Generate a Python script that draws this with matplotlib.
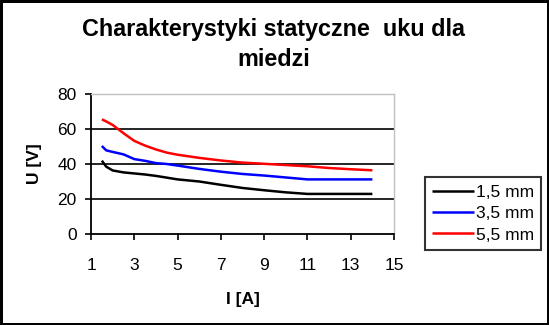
"""Charakterystyki statyczne luku dla miedzi - line chart."""

import matplotlib
matplotlib.use("Agg")
import matplotlib.pyplot as plt
from matplotlib.patches import Rectangle

plt.rcParams['font.family'] = ['Liberation Sans', 'DejaVu Sans']

# current I [A]
current = [1.5, 1.7, 2, 2.5, 3, 3.5, 4, 4.5, 5, 6, 7, 8, 9, 10, 11, 12, 13, 14]
# arc voltage U [V] for each electrode diameter
u_15 = [41.9, 38.5, 36.3, 35.2, 34.6, 34.0, 33.2, 32.2, 31.2, 30.0, 28.1, 26.3,
        25.0, 23.8, 22.9, 22.9, 22.9, 22.9]
u_35 = [50.3, 47.8, 46.9, 45.5, 42.8, 41.8, 40.5, 40.0, 39.1, 37.2, 35.6, 34.3,
        33.4, 32.3, 31.2, 31.2, 31.2, 31.2]
u_55 = [65.5, 64.3, 62.3, 57.6, 53.2, 50.5, 48.3, 46.5, 45.3, 43.5, 42.0, 40.8,
        40.1, 39.4, 38.7, 37.7, 37.0, 36.4]
series_labels = ["1,5 mm", "3,5 mm", "5,5 mm"]
series_colors = ["black", "#0000ff", "#ff0000"]

x_ticks = [1, 3, 5, 7, 9, 11, 13, 15]
y_ticks = [0, 20, 40, 60, 80]

fig = plt.figure(figsize=(5.49, 3.25), dpi=100)
ax = fig.add_axes([0.1658, 0.28, 0.5519, 0.4308])

for vals, lab, col in zip([u_15, u_35, u_55], series_labels, series_colors):
    ax.plot(current, vals, color=col, lw=1.8, label=lab, solid_capstyle='butt')

ax.set_xlim(1, 15)
ax.set_ylim(0, 80)
ax.set_xticks(x_ticks)
ax.set_yticks(y_ticks)
ax.tick_params(axis='both', direction='out', length=4.3, width=1.2,
               labelsize=12.5, colors='black')
ax.tick_params(axis='x', pad=13)
ax.tick_params(axis='y', pad=6)

for y in [20, 40, 60]:
    ax.axhline(y, color='black', lw=1.2, zorder=1)

for side in ['left', 'bottom']:
    ax.spines[side].set_color('black')
    ax.spines[side].set_linewidth(1.3)
for side in ['top', 'right']:
    ax.spines[side].set_color('#c0c0c0')
    ax.spines[side].set_linewidth(1.0)

ax.set_xlabel("I [A]", fontsize=12.5, fontweight='bold')
ax.set_ylabel("U [V]", fontsize=12.5, fontweight='bold')
ax.xaxis.label.set_va('center')
ax.yaxis.label.set_va('center')
ax.xaxis.set_label_coords(0.5, -0.471)
ax.yaxis.set_label_coords(-0.185, 0.5)

fig.text(0.498, 1 - 44.5 / 325, "Charakterystyki statyczne  uku dla\nmiedzi",
         ha='center', va='center', fontsize=16.8, fontweight='bold',
         linespacing=1.35)

leg = ax.legend(loc='center', bbox_to_anchor=(0.8798, 0.343),
                bbox_transform=fig.transFigure, fontsize=12.5,
                frameon=True, fancybox=False, edgecolor='black',
                handlelength=2.4, handletextpad=0.1, labelspacing=0.36,
                borderpad=0.42, borderaxespad=0)
leg.get_frame().set_linewidth(1.5)

fig.patches.append(Rectangle((0, 0), 1, 1, transform=fig.transFigure,
                             fill=False, edgecolor='black', lw=3.6))

fig.savefig("out.png", dpi=100)
